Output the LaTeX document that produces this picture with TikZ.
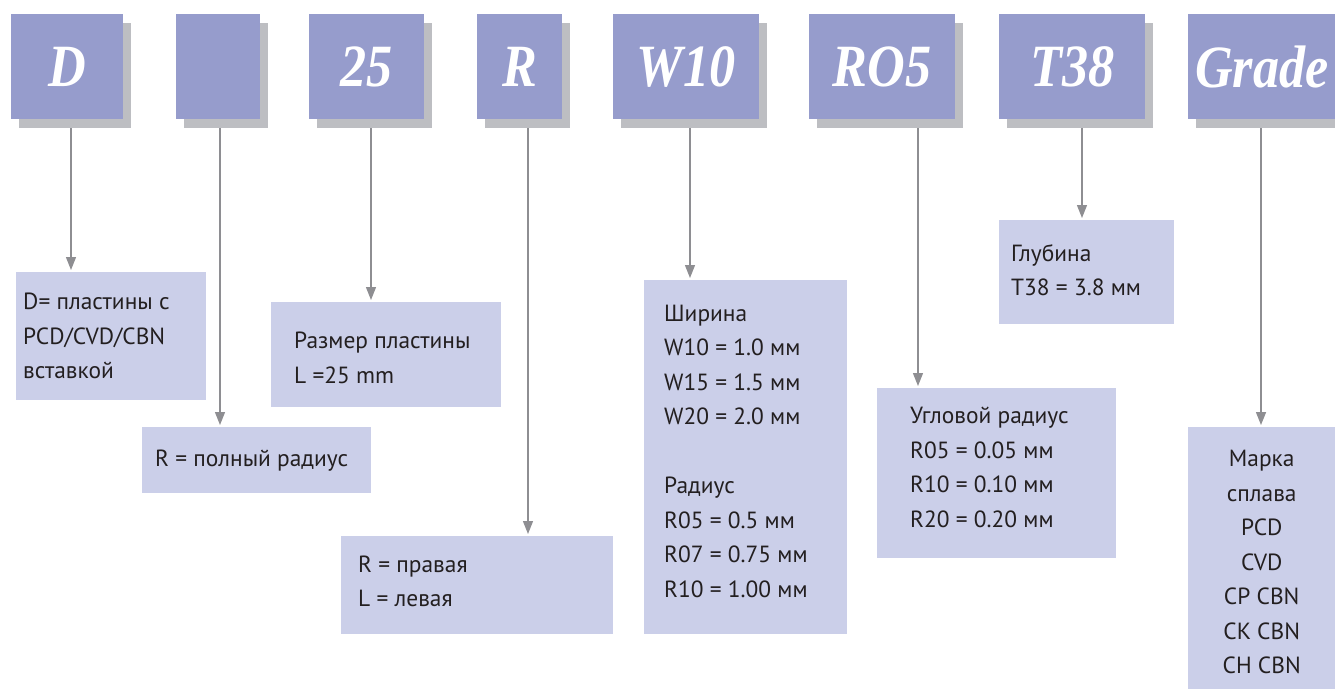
\documentclass[tikz,border=0pt]{standalone}
\usepackage{fontspec}
\setmainfont{PT Sans}
\newfontfamily\codefont[FakeStretch=0.87]{Liberation Serif}
\usetikzlibrary{arrows.meta,shadows}
\definecolor{codeblue}{RGB}{150,156,204}
\definecolor{infoblue}{RGB}{203,207,233}
\definecolor{shadowgray}{RGB}{189,190,194}
\definecolor{linkgray}{RGB}{142,142,146}
\definecolor{inkgray}{RGB}{35,31,32}

\tikzset{
  code/.style={fill=codeblue, inner sep=0pt, minimum height=105pt, anchor=north west,
    text=white, font=\codefont\bfseries\itshape\fontsize{60}{60}\selectfont,
    drop shadow={shadow xshift=8pt, shadow yshift=-9pt, fill=shadowgray, opacity=1}},
  info/.style={fill=infoblue, inner sep=0pt, anchor=north west},
  infotext/.style={anchor=west, align=left, inner sep=0pt, text=inkgray,
    font=\fontsize{23.4}{34.5}\selectfont},
  link/.style={draw=linkgray, line width=1.3pt, shorten <=9pt, shorten >=2pt,
    -{Triangle[width=10pt,length=13pt]}}
}

\begin{document}
\begin{tikzpicture}[x=1pt,y=-1pt]
  \useasboundingbox[fill=white] (0,0) rectangle (1335,689);

  % code letters
  \node[code, minimum width=112pt] (tD) at (11,14) {D};
  \node[code, minimum width=84pt] (tBlank) at (176,14) {};
  \node[code, minimum width=115pt] (tSize) at (309,14) {25};
  \node[code, minimum width=85pt] (tHand) at (477,14) {R};
  \node[code, minimum width=146pt] (tWidth) at (613,14) {W10};
  \node[code, minimum width=146pt] (tCorner) at (809,14) {RO5};
  \node[code, minimum width=146pt] (tDepth) at (999,14) {T38};
  \node[code, minimum width=147pt] (tGrade) at (1188,14) {Grade};

  % explanation boxes
  \node[info, minimum width=190pt, minimum height=128pt] (bD) at (16,272) {};
  \node[infotext] (lD) at ([xshift=7pt]bD.west) {D= пластины с\\PCD/CVD/CBN\\вставкой};

  \node[info, minimum width=229pt, minimum height=66pt] (bFull) at (142,427) {};
  \node[infotext] (lFull) at ([xshift=13pt]bFull.west) {R = полный радиус};

  \node[info, minimum width=230pt, minimum height=105pt] (bSize) at (271,302) {};
  \node[infotext] (lSize) at ([xshift=23pt,yshift=-3pt]bSize.west) {Размер пластины\\L =25 mm};

  \node[info, minimum width=272pt, minimum height=98pt] (bHand) at (341,536) {};
  \node[infotext] (lHand) at ([xshift=17pt,yshift=4pt]bHand.west) {R = правая\\L = левая};

  \node[info, minimum width=203pt, minimum height=354pt] (bWidth) at (644,280) {};
  \node[infotext] (lWidth) at ([xshift=20pt,yshift=6pt]bWidth.west)
    {Ширина\\W10 = 1.0 мм\\W15 = 1.5 мм\\W20 = 2.0 мм\\[34.5pt]Радиус\\R05 = 0.5 мм\\R07 = 0.75 мм\\R10 = 1.00 мм};

  \node[info, minimum width=239pt, minimum height=170pt] (bCorner) at (877,388) {};
  \node[infotext] (lCorner) at ([xshift=33pt,yshift=6pt]bCorner.west)
    {Угловой радиус\\R05 = 0.05 мм\\R10 = 0.10 мм\\R20 = 0.20 мм};

  \node[info, minimum width=175pt, minimum height=104pt] (bDepth) at (999,220) {};
  \node[infotext] (lDepth) at ([xshift=12pt,yshift=2pt]bDepth.west) {Глубина\\T38 = 3.8 мм};

  \node[info, minimum width=147pt, minimum height=262pt] (bGrade) at (1188,427) {};
  \node[infotext, anchor=center, align=center] (lGrade) at ([yshift=-4pt]bGrade.center)
    {Марка\\сплава\\PCD\\CVD\\CP CBN\\CK CBN\\CH CBN};

  % arrows from each code to its box
  \draw[link] (71,0 |- tD.south) -- (71,0 |- bD.north);
  \draw[link] (220,0 |- tBlank.south) -- (220,0 |- bFull.north);
  \draw[link] (371,0 |- tSize.south) -- (371,0 |- bSize.north);
  \draw[link] (528,0 |- tHand.south) -- (528,0 |- bHand.north);
  \draw[link] (690,0 |- tWidth.south) -- (690,0 |- bWidth.north);
  \draw[link] (918,0 |- tCorner.south) -- (918,0 |- bCorner.north);
  \draw[link] (1082,0 |- tDepth.south) -- (1082,0 |- bDepth.north);
  \draw[link] (1261,0 |- tGrade.south) -- (1261,0 |- bGrade.north);
\end{tikzpicture}
\end{document}
